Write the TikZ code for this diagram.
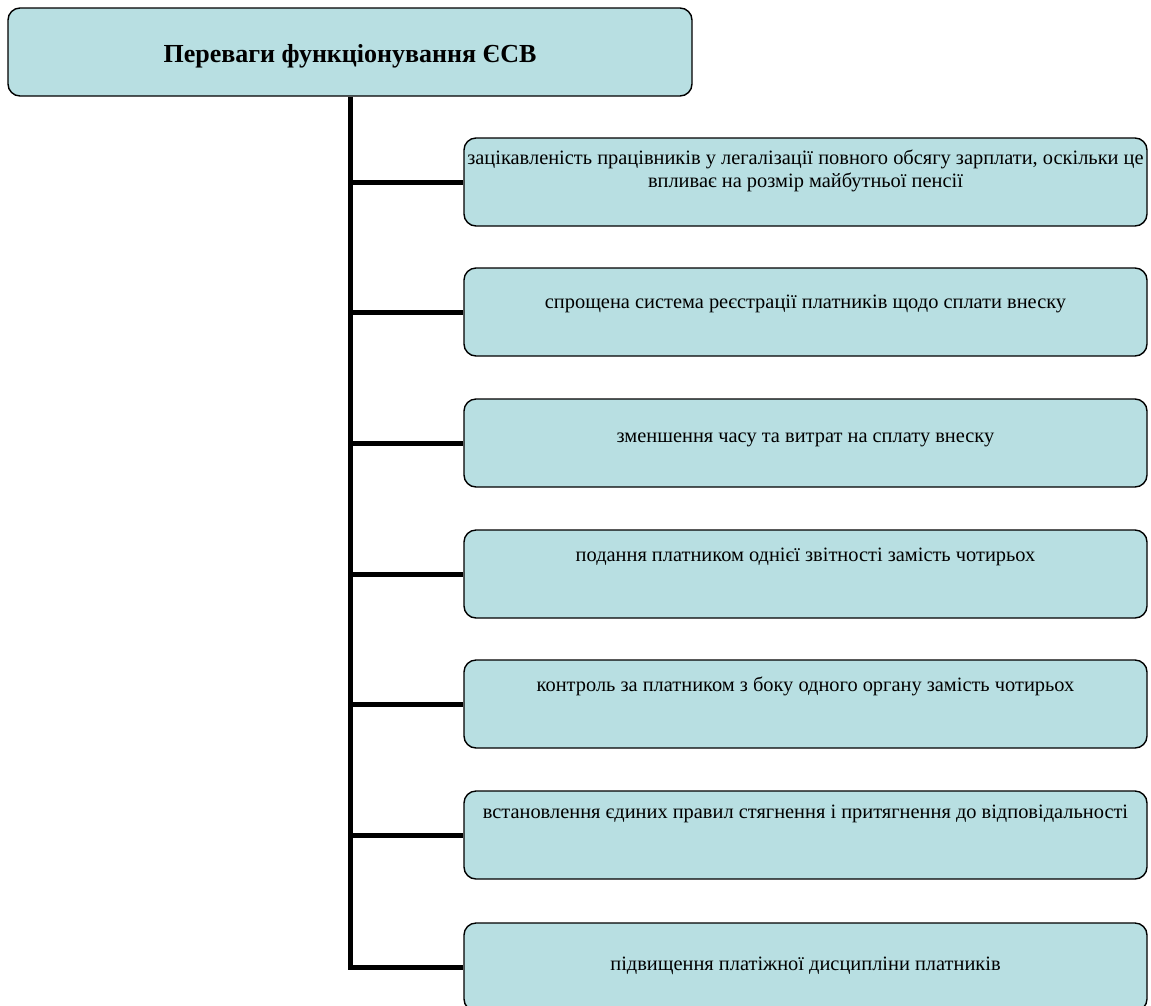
\documentclass[tikz,border=0pt]{standalone}
\usepackage{fontspec}
\setmainfont{Liberation Serif}
\usetikzlibrary{positioning,calc}
\definecolor{boxfill}{RGB}{184,223,226}

\begin{document}
\begin{tikzpicture}[x=1pt, y=1pt,
        box/.style={draw, rounded corners=12pt, fill=boxfill, line width=1.4pt,
                    minimum width=683pt, minimum height=88pt, inner sep=0pt},
        lbl/.style={font=\fontsize{20.4}{23}\selectfont, align=center, inner sep=0pt},
        branch/.style={line width=5pt}]
        \useasboundingbox (0,0) rectangle (1151,-1005);
        \node[box, minimum width=684pt] (top) at (350,-52) {};
        \node[font=\bfseries\fontsize{26}{30}\selectfont] (title) at (350,-56)
            {Переваги функціонування ЄСВ};
        \foreach \i/\y/\ty/\txt in {
            1/182/171/{зацікавленість працівників у легалізації повного обсягу зарплати, оскільки це\\впливає на розмір майбутньої пенсії},
            2/312/304/{спрощена система реєстрації платників щодо сплати внеску},
            3/443/440/{зменшення часу та витрат на сплату внеску},
            4/574/557/{подання платником однієї звітності замість чотирьох},
            5/704/686/{контроль за платником з боку одного органу замість чотирьох},
            6/835/814/{встановлення єдиних правил стягнення і притягнення до відповідальності},
            7/967/966/{підвищення платіжної дисципліни платників}}{
            \node[box] (B\i) at (805.5,-\y) {};
            \node[lbl] (T\i) at (805.5,-\ty) {\txt};
        }
        \draw[branch] (top.south) -- (top.south |- B7.west) -- (B7.west);
        \foreach \i in {1,...,6}
            \draw[branch] (top.south |- B\i.west) -- (B\i.west);
      \end{tikzpicture}
\end{document}
